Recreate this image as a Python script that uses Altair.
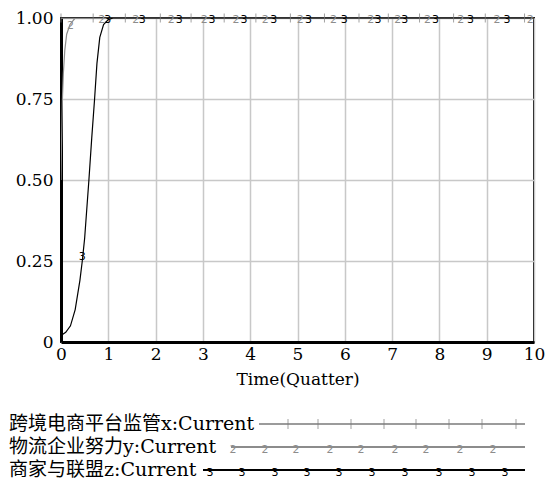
import altair as alt
import pandas as pd

# ---- data ----
t_x = [0, 10]
v_x = [1.0, 1.0]

t_y = [0, 0.01, 0.03, 0.05, 0.08, 0.12, 0.19, 0.3, 10]
v_y = [0.5, 0.6, 0.75, 0.83, 0.9, 0.95, 0.98, 1.0, 1.0]

t_z = [0, 0.1, 0.2, 0.3, 0.4, 0.45, 0.5, 0.59, 0.65, 0.71, 0.76, 0.82, 0.9, 1.0, 1.1, 10]
v_z = [0.02, 0.03, 0.05, 0.1, 0.19, 0.25, 0.32, 0.5, 0.63, 0.75, 0.86, 0.94, 0.98, 0.995, 1.0, 1.0]

mark_t_x = [0, 0.68, 1.36, 2.1, 2.75, 3.45, 4.12, 4.85, 5.57, 6.3, 6.92, 7.58, 8.3, 8.97, 9.8]
mark_v_x = [1.0] * len(mark_t_x)
mark_t_y = [0.2, 0.86, 1.58, 2.33, 3.03, 3.7, 4.32, 5.06, 5.76, 6.55, 7.12, 7.75, 8.45, 9.22, 9.92]
mark_v_y = [0.98] + [1.0] * (len(mark_t_y) - 1)
mark_t_z = [0.45, 0.99, 1.72, 2.5, 3.19, 3.87, 4.5, 5.23, 5.99, 6.7, 7.27, 7.92, 8.66, 9.43]
mark_v_z = [0.27] + [1.0] * (len(mark_t_z) - 1)

labels = ["跨境电商平台监管x:Current", "物流企业努力y:Current", "商家与联盟z:Current"]
x_ticks = list(range(0, 11))
y_ticks = [0, 0.25, 0.5, 0.75, 1.0]

# ---- styling ----
C1, C2, C3 = "#7a7a7a", "#8c8c8c", "#000000"
SERIF = "DejaVu Serif, Noto Sans CJK SC"
W, H = 473, 324
OX, OY = 61, 18  # plot origin on the page

xs = alt.Scale(domain=[0, 10], nice=False, zero=False)
ys = alt.Scale(domain=[0, 1], nice=False)

xax = alt.Axis(values=x_ticks, title="Time(Quatter)", format="d", labelFlush=False,
               labelFontSize=17, labelPadding=4, titlePadding=9)
yax = alt.Axis(values=y_ticks, title=None, labelFlush=False, labelFontSize=17, labelPadding=8,
               labelExpr="datum.value == 0 ? '0' : format(datum.value, '.2f')")

def line_df(t, v):
    return pd.DataFrame({"t": t, "v": v})

def enc():
    return dict(x=alt.X("t:Q", scale=xs, axis=xax), y=alt.Y("v:Q", scale=ys, axis=yax))

def line(t, v, color, width):
    return alt.Chart(line_df(t, v)).mark_line(color=color, strokeWidth=width, clip=True).encode(**enc())

base = line(t_x, v_x, C1, 1.5)
l2 = line(t_y, v_y, C2, 1.2)
l3 = line(t_z, v_z, C3, 1.2)

m1 = alt.Chart(line_df(mark_t_x, mark_v_x)).mark_tick(
    orient="vertical", color=C1, size=9, thickness=1).encode(**enc())

def digit(t, v, txt, color):
    return alt.Chart(line_df(t, v)).mark_text(
        text=txt, color=color, font="DejaVu Sans", fontSize=11,
        baseline="middle", dy=2).encode(**enc())

m2 = digit(mark_t_y, mark_v_y, "2", C2)
m3 = digit(mark_t_z, mark_v_z, "3", C3)

# ---- legend (layout, pixel positions relative to plot origin) ----
rows = [
    dict(y=424, line_start=259, color=C1, w=1.5, kind="tick",
         marks=[288, 318, 351, 384, 416, 449, 482, 516]),
    dict(y=447, line_start=231, color=C2, w=2, kind="2",
         marks=[233, 265, 296, 330, 361, 395, 426, 460, 493]),
    dict(y=470, line_start=203, color=C3, w=2, kind="3",
         marks=[210, 242, 275, 307, 339, 372, 405, 439, 472, 505]),
]
legend_layers = []
for lab, r in zip(labels, rows):
    legend_layers.append(
        alt.Chart(pd.DataFrame({"a": [0]})).mark_text(
            text=lab, font=SERIF, fontSize=19, align="left", baseline="middle", color="black").encode(
            x=alt.value(9 - OX), y=alt.value(r["y"] - OY)))
    legend_layers.append(
        alt.Chart(pd.DataFrame({"a": [0]})).mark_rule(color=r["color"], strokeWidth=r["w"]).encode(
            x=alt.value(r["line_start"] - OX), x2=alt.value(525 - OX), y=alt.value(r["y"] - OY)))
    mdf = pd.DataFrame({"px": [m - OX for m in r["marks"]], "py": [r["y"] - OY] * len(r["marks"])})
    if r["kind"] == "tick":
        legend_layers.append(
            alt.Chart(mdf).mark_tick(orient="vertical", color=r["color"], size=10, thickness=1).encode(
                x=alt.X("px:Q", scale=None), y=alt.Y("py:Q", scale=None)))
    else:
        legend_layers.append(
            alt.Chart(mdf).mark_text(text=r["kind"], color=r["color"], font="DejaVu Sans",
                                     fontSize=11, baseline="middle", dy=3).encode(
                x=alt.X("px:Q", scale=None), y=alt.Y("py:Q", scale=None)))

chart = alt.layer(base, l2, l3, m1, m2, m3, *legend_layers).properties(
    width=W, height=H,
    autosize=alt.AutoSizeParams(type="none"),
    padding={"left": OX - 8, "top": OY - 8, "right": 537 - (OX - 8) - W, "bottom": 476 - (OY - 8) - H},
).configure_view(
    stroke="black", strokeWidth=2
).configure_axis(
    domainColor="black", domainWidth=3,
    grid=True, gridColor="#c8c8c8", gridWidth=1.5,
    ticks=False,
    labelFont="DejaVu Serif", labelColor="black",
    titleFont="DejaVu Serif", titleFontSize=17, titleFontWeight="normal", titleColor="black",
)

chart.save("out.html", embed_options={"renderer": "svg", "actions": False})
